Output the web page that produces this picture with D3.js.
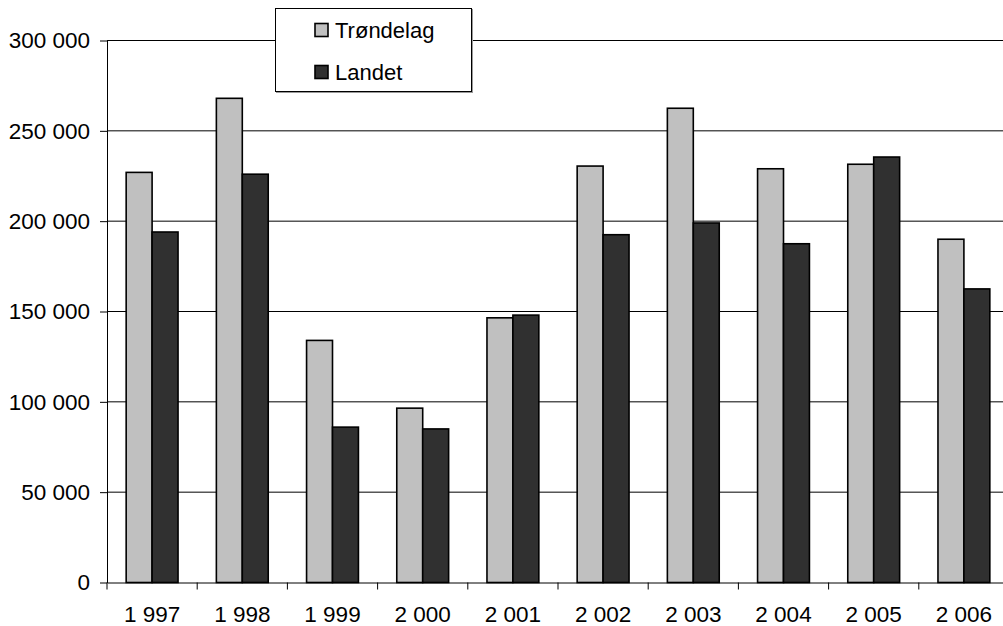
<!DOCTYPE html>
<html><head><meta charset="utf-8">
<script src="https://cdn.jsdelivr.net/npm/d3@7"></script>
<style>
html,body{margin:0;padding:0;background:#fff;}
svg{display:block;font-family:"Liberation Sans",Arial,sans-serif;}
</style></head>
<body>
<svg id="chart" width="1003" height="626"></svg>
<script>
const years = ["1 997","1 998","1 999","2 000","2 001","2 002","2 003","2 004","2 005","2 006"];
const seriesNames = ["Trøndelag","Landet"];
const trondelag = [227000,268000,134000,96500,146500,230500,262500,229000,231500,190000];
const landet = [194000,226000,86000,85000,148000,192500,199000,187500,235500,162500];
const yTicks = [0,50000,100000,150000,200000,250000,300000];
const colors = ["#c0c0c0","#303030"];

const svg = d3.select("#chart");
const mLeft = 107, mRight = 1009, mTop = 40.5, mBottom = 582.5;
const x0 = d3.scaleBand().domain(years).range([mLeft, mRight]).paddingInner(0).paddingOuter(0);
const bw = x0.bandwidth();
const gw = bw * 0.575;
const x1 = d3.scaleBand().domain(seriesNames).range([(bw - gw)/2, (bw + gw)/2]);
const y = d3.scaleLinear().domain([0, 300000]).range([mBottom, mTop]);
const fmt = v => d3.format(",")(v).replace(/,/g, " ");
const FS = "22.5px";

// gridlines
svg.append("g").selectAll("line").data(yTicks.filter(d => d > 0)).join("line")
  .attr("x1", mLeft).attr("x2", mRight)
  .attr("y1", d => y(d)).attr("y2", d => y(d))
  .attr("stroke", "#000").attr("stroke-width", 1);

// bars
const data = years.map((yr, i) => ({yr, vals: [trondelag[i], landet[i]]}));
const g = svg.append("g").selectAll("g").data(data).join("g")
  .attr("transform", d => `translate(${x0(d.yr)},0)`);
g.selectAll("rect").data(d => d.vals.map((v, j) => ({v, s: seriesNames[j], j}))).join("rect")
  .attr("x", d => x1(d.s)).attr("width", x1.bandwidth())
  .attr("y", d => y(d.v)).attr("height", d => y(0) - y(d.v))
  .attr("fill", d => colors[d.j]).attr("stroke", "#000").attr("stroke-width", 1.6);

// y axis
const yAxis = d3.axisLeft(y).tickValues(yTicks).tickFormat(fmt).tickSizeInner(7).tickSizeOuter(0).tickPadding(10);
const ya = svg.append("g").attr("transform", `translate(${mLeft},0)`).call(yAxis);
ya.selectAll("text").attr("font-size", FS).attr("fill", "#000").attr("font-family", "Liberation Sans, Arial, sans-serif");
ya.selectAll("line,path").attr("stroke", "#000");

// x axis
const xAxis = d3.axisBottom(x0).tickSize(0).tickPadding(24);
const xa = svg.append("g").attr("transform", `translate(0,${mBottom})`).call(xAxis);
xa.select("path").attr("stroke", "#000");
xa.selectAll("text").attr("font-size", FS).attr("fill", "#000").attr("font-family", "Liberation Sans, Arial, sans-serif");
// boundary ticks
svg.append("g").selectAll("line").data(years.concat(["end"])).join("line")
  .attr("x1", (d, i) => mLeft + i * bw).attr("x2", (d, i) => mLeft + i * bw)
  .attr("y1", mBottom).attr("y2", mBottom + 7).attr("stroke", "#000");

// legend
const lg = svg.append("g");
lg.append("rect").attr("x", 276).attr("y", 9).attr("width", 197).attr("height", 84).attr("fill", "#999");
lg.append("rect").attr("x", 275.5).attr("y", 8.5).attr("width", 196).attr("height", 83)
  .attr("fill", "#fff").attr("stroke", "#000").attr("stroke-width", 1);
const items = lg.selectAll("g.item").data(seriesNames).join("g").attr("class", "item")
  .attr("transform", (d, i) => `translate(315,${23.5 + i * 42})`);
items.append("rect").attr("width", 13).attr("height", 13)
  .attr("fill", (d, i) => colors[i]).attr("stroke", "#000").attr("stroke-width", 1.6);
items.append("text").attr("x", 20).attr("y", 14).attr("font-size", "22px").attr("fill", "#000").text(d => d);
</script>
</body></html>
